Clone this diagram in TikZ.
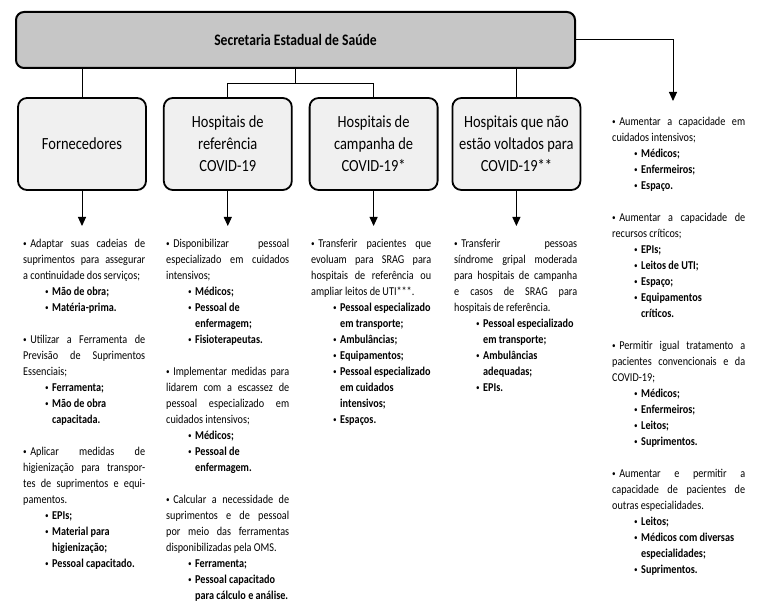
\documentclass[tikz,border=0pt]{standalone}
\usepackage{fontspec}
\setmainfont{Carlito}[FakeStretch=0.85]
\usetikzlibrary{positioning,arrows.meta}

\newcommand{\bul}{\raisebox{0.15ex}{\scalebox{0.7}{•}}}
\newcommand{\mainitm}{\par\noindent\bul\hspace{3.5pt}}
\newcommand{\subitm}[1]{\par{\leftskip=22pt\rightskip=-10pt plus 1fil\parfillskip=0pt plus 1fil
  \hangindent=7pt\hangafter=1\noindent\makebox[7pt][l]{\bul}\textbf{#1}\par}}
\newcommand{\gap}{\par\vspace{16pt}}

\begin{document}
\begin{tikzpicture}[
  x=1pt, y=-1pt,
  >={Triangle[width=8pt,length=9pt]},
  head/.style={draw, line width=2pt, rounded corners=8pt, fill=gray!45,
               minimum width=559pt, minimum height=56pt,
               font=\fontsize{16}{20}\selectfont\bfseries},
  grp/.style={draw, line width=1.8pt, rounded corners=9pt, fill=gray!12,
              minimum width=128pt, minimum height=92pt, align=center,
              font=\fontsize{17}{22}\selectfont},
  txt/.style={anchor=north west, inner sep=0pt, align=justify,
              font=\fontsize{12}{16}\selectfont},
  link/.style={line width=1pt},
  node distance=16pt and 16pt,
]
\useasboundingbox (0,0) rectangle (764,612);

\node[head] (sec) at (295.5,40) {Secretaria Estadual de Saúde};
\node[grp] (forn) at (82,144) {Fornecedores};
\node[grp, right=of forn] (ref)  {Hospitais de\\referência\\COVID-19};
\node[grp, right=of ref]  (camp) {Hospitais de\\campanha de\\COVID-19*};
\node[grp, right=13pt of camp] (outr) {Hospitais que não\\estão voltados para\\COVID-19**};

% texts under each box
\node[txt, text width=122pt] (t1) at (23,231) {%
\mainitm Adaptar suas cadeias de\linebreak suprimentos para assegurar\linebreak a continuidade dos serviços;
\subitm{Mão de obra;}
\subitm{Matéria-prima.}
\gap
\mainitm Utilizar a Ferramenta de\linebreak Previsão de Suprimentos\linebreak Essenciais;
\subitm{Ferramenta;}
\subitm{Mão de obra\newline capacitada.}
\gap
\mainitm Aplicar medidas de\linebreak higienização para transpor-\linebreak tes de suprimentos e equi-\linebreak pamentos.
\subitm{EPIs;}
\subitm{Material para\newline higienização;}
\subitm{Pessoal capacitado.}};

\node[txt, text width=123pt] (t2) at (166,231) {%
\mainitm Disponibilizar pessoal\linebreak especializado em cuidados\linebreak intensivos;
\subitm{Médicos;}
\subitm{Pessoal de\newline enfermagem;}
\subitm{Fisioterapeutas.}
\gap
\mainitm Implementar medidas para\linebreak lidarem com a escassez de\linebreak pessoal especializado em\linebreak cuidados intensivos;
\subitm{Médicos;}
\subitm{Pessoal de\newline enfermagem.}
\gap
\mainitm Calcular a necessidade de\linebreak suprimentos e de pessoal\linebreak por meio das ferramentas\linebreak disponibilizadas pela OMS.
\subitm{Ferramenta;}
\subitm{Pessoal capacitado\newline para cálculo e análise.}};

\node[txt, text width=120pt] (t3) at (311,231) {%
\mainitm Transferir pacientes que\linebreak evoluam para SRAG para\linebreak hospitais de referência ou\linebreak ampliar leitos de UTI***.
\subitm{Pessoal especializado\newline em transporte;}
\subitm{Ambulâncias;}
\subitm{Equipamentos;}
\subitm{Pessoal especializado\newline em cuidados\newline intensivos;}
\subitm{Espaços.}};

\node[txt, text width=123pt] (t4) at (454,231) {%
\mainitm Transferir pessoas\linebreak síndrome gripal moderada\linebreak para hospitais de campanha\linebreak e casos de SRAG para\linebreak hospitais de referência.
\subitm{Pessoal especializado\newline em transporte;}
\subitm{Ambulâncias\newline adequadas;}
\subitm{EPIs.}};

\node[txt, text width=133pt] (t5) at (612,109) {%
\mainitm Aumentar a capacidade em\linebreak cuidados intensivos;
\subitm{Médicos;}
\subitm{Enfermeiros;}
\subitm{Espaço.}
\gap
\mainitm Aumentar a capacidade de\linebreak recursos críticos;
\subitm{EPIs;}
\subitm{Leitos de UTI;}
\subitm{Espaço;}
\subitm{Equipamentos\newline críticos.}
\gap
\mainitm Permitir igual tratamento a\linebreak pacientes convencionais e da\linebreak COVID-19;
\subitm{Médicos;}
\subitm{Enfermeiros;}
\subitm{Leitos;}
\subitm{Suprimentos.}
\gap
\mainitm Aumentar e permitir a\linebreak capacidade de pacientes de\linebreak outras especialidades.
\subitm{Leitos;}
\subitm{Médicos com diversas\newline especialidades;}
\subitm{Suprimentos.}};

\coordinate (c5) at (673,101);

% connectors
\draw[link] (forn.north |- sec.south) -- (forn.north);
\draw[link] (outr.north |- sec.south) -- (outr.north);
\draw[link] (sec.south) -- ++(0,15) coordinate (mid);
\draw[link] (mid) -| (ref.north);
\draw[link] (mid) -| (camp.north);
\draw[link, ->] (sec.east) -| (c5);
\draw[link, ->, shorten >=5pt] (forn.south) -- (forn.south |- t1.north);
\draw[link, ->, shorten >=5pt] (ref.south) -- (ref.south |- t2.north);
\draw[link, ->, shorten >=5pt] (camp.south) -- (camp.south |- t3.north);
\draw[link, ->, shorten >=5pt] (outr.south) -- (outr.south |- t4.north);
\end{tikzpicture}
\end{document}
